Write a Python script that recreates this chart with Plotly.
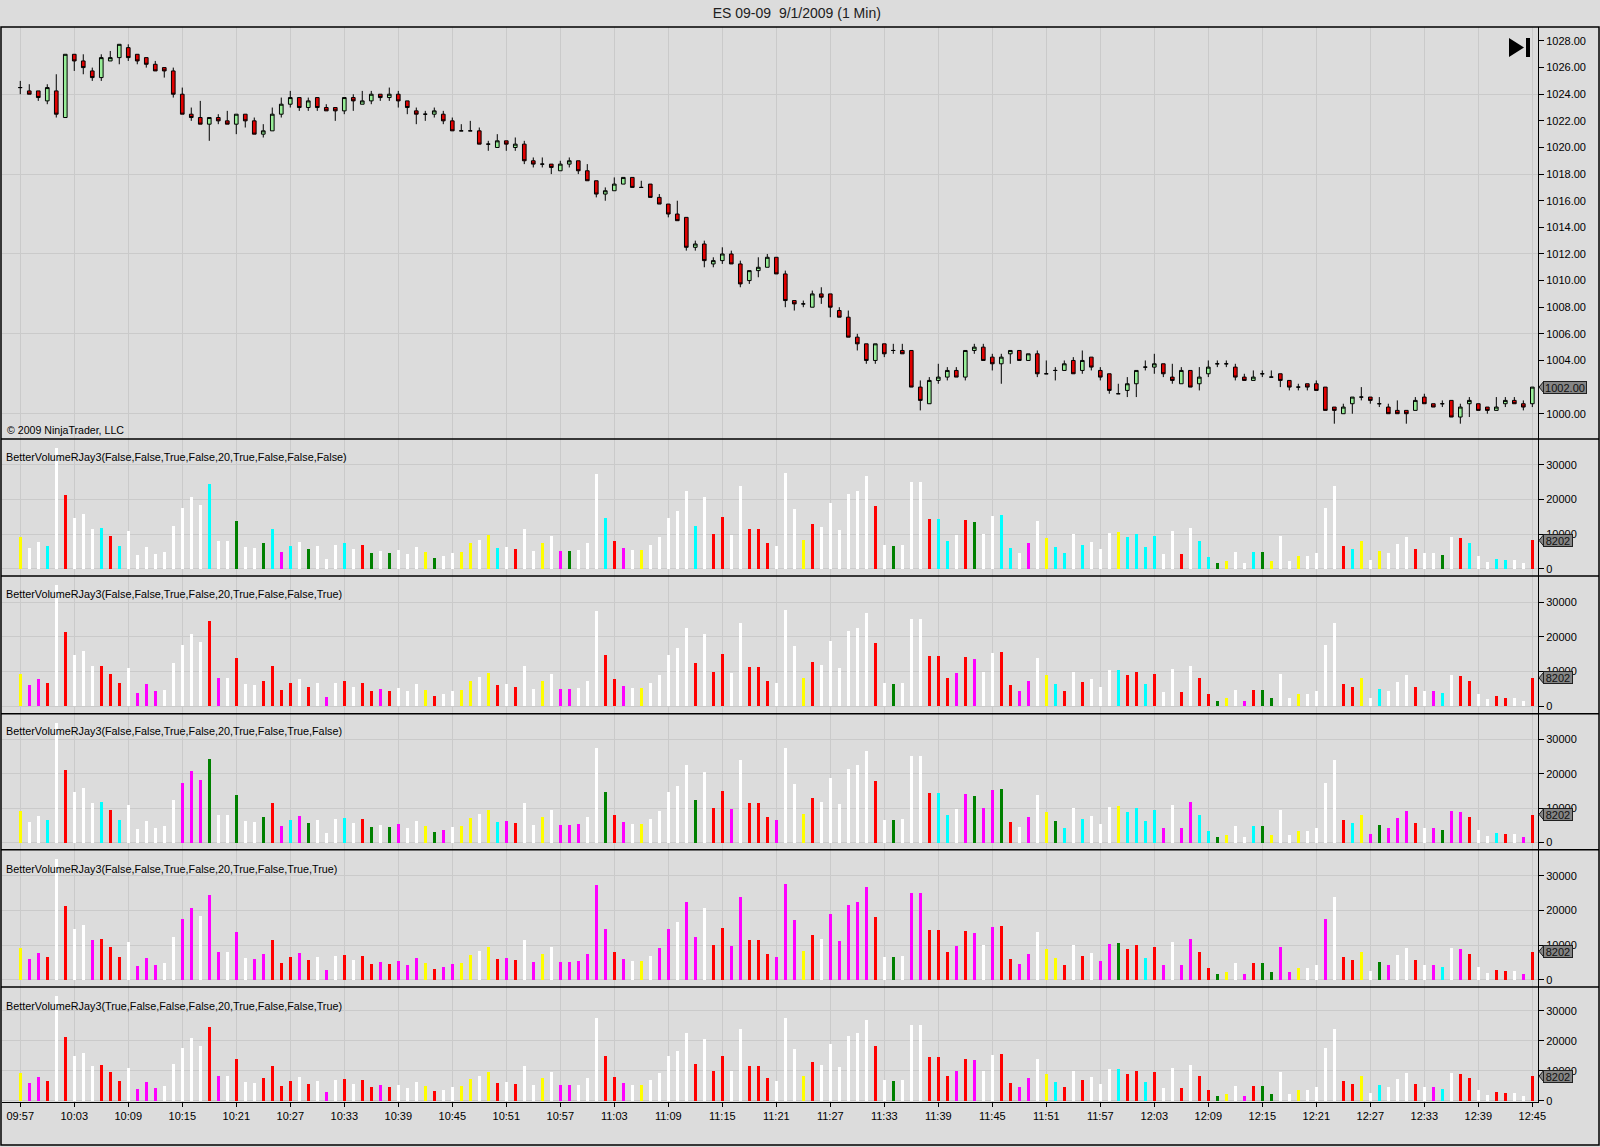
import plotly.graph_objects as go
from plotly.subplots import make_subplots

TITLE = "ES 09-09\u00a0 9/1/2009 (1 Min)"
COPYRIGHT = "\u00a9 2009 NinjaTrader, LLC"

TICK_LABELS = ["09:57", "10:03", "10:09", "10:15", "10:21", "10:27", "10:33", "10:39",
               "10:45", "10:51", "10:57", "11:03", "11:09", "11:15", "11:21", "11:27",
               "11:33", "11:39", "11:45", "11:51", "11:57", "12:03", "12:09", "12:15",
               "12:21", "12:27", "12:33", "12:39", "12:45"]

OPEN = [
    1024.5, 1024.25, 1024.25, 1023.5, 1024.25, 1022.25, 1027.0, 1026.5, 1025.75, 1025.25,
    1026.5, 1026.75, 1027.5, 1027.0, 1026.75, 1026.25, 1026.0, 1025.75, 1024.0, 1022.5,
    1022.25, 1021.75, 1022.25, 1022.0, 1021.75, 1022.5, 1022.0, 1021.0, 1021.25, 1022.5,
    1023.25, 1023.75, 1023.0, 1023.75, 1023.0, 1023.0, 1022.75, 1023.75, 1023.25, 1023.5,
    1024.0, 1023.75, 1024.0, 1023.5, 1022.75, 1022.5, 1022.5, 1022.5, 1022.0, 1021.25,
    1021.25, 1021.25, 1020.25, 1020.0, 1020.5, 1020.0, 1020.25, 1019.0, 1018.75, 1018.75,
    1018.25, 1018.75, 1019.0, 1018.25, 1017.5, 1016.5, 1016.75, 1017.25, 1017.75, 1017.0,
    1017.25, 1016.25, 1015.75, 1015.0, 1014.75, 1012.5, 1012.75, 1011.25, 1011.5, 1012.0,
    1011.25, 1010.0, 1010.75, 1011.0, 1011.75, 1010.5, 1008.5, 1008.25, 1008.0, 1009.0,
    1009.0, 1007.75, 1007.25, 1005.75, 1005.25, 1004.0, 1005.25, 1004.75, 1004.75, 1004.75,
    1002.0, 1000.75, 1002.5, 1002.75, 1003.25, 1002.75, 1004.75, 1005.0, 1004.25, 1003.75,
    1004.5, 1004.75, 1004.0, 1004.5, 1003.0, 1003.25, 1003.25, 1004.0, 1003.25, 1004.25,
    1003.25, 1003.0, 1001.5, 1001.75, 1002.25, 1003.5, 1003.5, 1003.75, 1002.75, 1002.25,
    1003.25, 1002.25, 1003.0, 1003.75, 1003.75, 1003.5, 1002.75, 1002.5, 1003.0, 1002.75,
    1003.0, 1002.5, 1002.0, 1002.25, 1002.25, 1002.0, 1000.5, 1000.0, 1000.75, 1001.25,
    1001.25, 1000.75, 1000.5, 1000.25, 1000.25, 1000.25, 1001.25, 1000.75, 1000.75, 1001.0,
    999.75, 1000.75, 1000.75, 1000.5, 1000.25, 1000.75, 1001.0, 1000.75, 1000.75,
]
HIGH = [
    1025.0, 1024.75, 1024.25, 1024.75, 1025.5, 1027.0, 1027.0, 1027.0, 1026.0, 1027.0,
    1027.25, 1027.75, 1027.75, 1027.0, 1026.75, 1026.5, 1026.0, 1026.0, 1024.5, 1023.0,
    1023.5, 1022.25, 1022.5, 1022.75, 1022.5, 1022.5, 1022.25, 1021.75, 1023.0, 1023.75,
    1024.25, 1023.75, 1023.75, 1023.75, 1023.25, 1023.0, 1023.75, 1024.0, 1024.25, 1024.25,
    1024.0, 1024.5, 1024.25, 1023.5, 1023.0, 1022.75, 1023.0, 1022.75, 1022.25, 1021.75,
    1022.0, 1021.5, 1020.5, 1021.0, 1020.5, 1020.75, 1020.5, 1019.25, 1019.25, 1018.75,
    1019.0, 1019.25, 1019.0, 1018.75, 1017.5, 1017.0, 1017.75, 1017.75, 1017.75, 1017.5,
    1017.25, 1016.5, 1015.75, 1016.0, 1014.75, 1013.0, 1013.0, 1011.75, 1012.5, 1012.25,
    1011.5, 1010.75, 1011.75, 1012.0, 1011.75, 1010.75, 1008.5, 1008.5, 1009.25, 1009.5,
    1009.0, 1008.0, 1007.75, 1006.0, 1005.25, 1005.25, 1005.25, 1005.25, 1005.25, 1004.75,
    1002.5, 1002.75, 1003.75, 1003.5, 1003.5, 1004.75, 1005.25, 1005.25, 1004.5, 1004.5,
    1004.75, 1004.75, 1004.5, 1004.75, 1004.0, 1003.5, 1004.0, 1004.25, 1004.75, 1004.25,
    1003.5, 1003.0, 1002.25, 1002.75, 1003.25, 1004.0, 1004.5, 1003.75, 1003.75, 1003.5,
    1003.25, 1003.5, 1004.0, 1004.0, 1004.0, 1003.75, 1003.0, 1003.25, 1003.25, 1003.25,
    1003.0, 1002.5, 1002.25, 1002.25, 1002.5, 1002.0, 1000.5, 1000.75, 1001.25, 1002.0,
    1001.25, 1001.25, 1000.75, 1001.0, 1000.25, 1001.25, 1001.5, 1000.75, 1001.0, 1001.0,
    1000.75, 1001.25, 1000.75, 1000.5, 1001.25, 1001.25, 1001.25, 1001.0, 1002.0,
]
LOW = [
    1024.0, 1024.0, 1023.5, 1023.25, 1022.25, 1022.25, 1025.75, 1025.5, 1025.0, 1025.0,
    1026.5, 1026.25, 1026.5, 1026.25, 1026.0, 1025.75, 1025.25, 1023.75, 1022.5, 1022.0,
    1021.75, 1020.5, 1021.75, 1021.75, 1021.0, 1021.5, 1021.0, 1020.75, 1021.25, 1022.25,
    1023.0, 1022.75, 1022.75, 1022.75, 1022.75, 1022.0, 1022.5, 1022.75, 1023.25, 1023.25,
    1023.5, 1023.5, 1023.0, 1022.5, 1021.75, 1022.0, 1022.25, 1021.75, 1021.25, 1021.25,
    1021.25, 1020.25, 1019.75, 1020.0, 1019.75, 1019.75, 1018.75, 1018.5, 1018.5, 1018.0,
    1018.25, 1018.5, 1018.0, 1017.5, 1016.25, 1016.0, 1016.75, 1017.25, 1017.0, 1017.0,
    1016.25, 1015.75, 1014.75, 1014.5, 1012.25, 1012.25, 1011.0, 1011.0, 1011.25, 1011.25,
    1009.5, 1009.75, 1010.25, 1011.0, 1010.5, 1008.0, 1007.75, 1008.0, 1008.0, 1008.25,
    1007.25, 1007.25, 1005.75, 1004.75, 1003.75, 1003.75, 1004.25, 1004.5, 1004.5, 1002.0,
    1000.25, 1000.75, 1002.25, 1002.5, 1002.75, 1002.5, 1004.5, 1004.0, 1003.25, 1002.25,
    1003.75, 1004.0, 1004.0, 1002.75, 1003.0, 1002.5, 1003.25, 1003.0, 1003.0, 1003.25,
    1002.5, 1001.5, 1001.5, 1001.25, 1001.25, 1003.25, 1003.0, 1002.75, 1002.25, 1002.25,
    1002.0, 1001.75, 1002.75, 1003.5, 1003.5, 1002.5, 1002.5, 1002.5, 1002.75, 1002.75,
    1002.0, 1001.75, 1001.75, 1001.75, 1001.75, 1000.25, 999.25, 1000.0, 1000.0, 1001.0,
    1000.75, 1000.5, 1000.0, 1000.0, 999.25, 1000.25, 1000.75, 1000.5, 1000.5, 999.75,
    999.25, 999.75, 1000.25, 1000.0, 1000.25, 1000.5, 1000.75, 1000.25, 1000.5,
]
CLOSE = [
    1024.5, 1024.0, 1023.75, 1024.5, 1022.5, 1027.0, 1026.5, 1026.0, 1025.25, 1026.75,
    1026.75, 1027.75, 1026.75, 1026.5, 1026.25, 1025.75, 1025.75, 1024.0, 1022.5, 1022.25,
    1021.75, 1022.25, 1022.0, 1021.75, 1022.5, 1022.0, 1021.0, 1021.25, 1022.5, 1023.25,
    1023.75, 1023.0, 1023.5, 1023.0, 1022.75, 1022.75, 1023.75, 1023.5, 1023.5, 1024.0,
    1023.75, 1024.0, 1023.5, 1023.0, 1022.5, 1022.5, 1022.75, 1022.0, 1021.25, 1021.25,
    1021.25, 1020.25, 1020.25, 1020.5, 1020.25, 1020.25, 1019.0, 1018.75, 1018.75, 1018.5,
    1018.75, 1019.0, 1018.25, 1017.5, 1016.5, 1016.75, 1017.25, 1017.75, 1017.0, 1017.0,
    1016.25, 1015.75, 1015.0, 1014.5, 1012.5, 1012.75, 1011.5, 1011.5, 1012.0, 1011.25,
    1009.75, 1010.75, 1011.0, 1011.75, 1010.5, 1008.5, 1008.25, 1008.25, 1009.0, 1008.75,
    1008.0, 1007.25, 1005.75, 1005.25, 1004.0, 1005.25, 1004.5, 1004.75, 1004.5, 1002.0,
    1001.0, 1002.5, 1002.75, 1003.25, 1002.75, 1004.75, 1005.0, 1004.0, 1003.75, 1004.25,
    1004.75, 1004.0, 1004.5, 1003.0, 1003.0, 1003.25, 1003.75, 1003.0, 1004.0, 1003.5,
    1002.75, 1001.75, 1001.5, 1002.25, 1003.25, 1003.5, 1003.75, 1003.0, 1002.5, 1003.25,
    1002.0, 1002.75, 1003.5, 1003.75, 1003.75, 1002.75, 1002.5, 1002.75, 1003.0, 1002.75,
    1002.5, 1002.0, 1002.0, 1002.0, 1001.75, 1000.25, 1000.25, 1000.5, 1001.25, 1001.25,
    1001.0, 1000.75, 1000.0, 1000.0, 1000.0, 1001.0, 1000.75, 1000.5, 1000.75, 999.75,
    1000.5, 1001.0, 1000.25, 1000.25, 1000.5, 1001.0, 1000.75, 1000.5, 1002.0,
]

VOLUME = [
    9250, 6070, 7800, 6650, 34800, 21300, 14750, 15900, 11570, 11760,
    9450, 6650, 11000, 3950, 6360, 4340, 4820, 12340, 17550, 20820,
    18400, 24500, 8100, 8100, 13800, 6360, 6070, 7420, 11570, 4820,
    6650, 7800, 5690, 6650, 2800, 6840, 7330, 5690, 6840, 4530,
    5110, 4530, 5400, 4340, 6360, 4820, 3080, 3660, 4530, 4820,
    7330, 8390, 9640, 6070, 6360, 5690, 11570, 5110, 7420, 9450,
    5110, 5110, 5400, 7420, 27470, 14750, 8000, 5980, 5400, 5400,
    6840, 9160, 14750, 16680, 22560, 12340, 20730, 10030, 14940, 9740,
    24000, 11470, 11470, 7420, 6650, 27600, 17260, 8290, 12900, 11950,
    18900, 11180, 21600, 22560, 26800, 18120, 6750, 6560, 6840, 25160,
    25160, 14460, 14460, 8100, 9740, 14070, 13500, 10030, 15230, 15620,
    6070, 4530, 7420, 13880, 8970, 6360, 4430, 10030, 6940, 7800,
    5590, 10410, 10600, 9060, 10030, 6360, 9450, 4240, 10890, 4240,
    11760, 8100, 3470, 1640, 2310, 4820, 1640, 4820, 4820, 2310,
    9450, 2310, 3570, 3570, 4430, 17550, 24000, 6560, 5690, 8100,
    2510, 5110, 4430, 7130, 9160, 5690, 4430, 4430, 3860, 9160,
    8870, 7420, 3660, 2020, 2890, 2510, 2510, 1640, 8202,
]

# bar colour codes per indicator panel: Y yellow, W white, C cyan, R red, M magenta, G green
COLORS_1 = ("YWWCWRWWWC" "RCWWWWWWWW" "WCWWGWWGCM" "CWGWWWCWRG" "WGWWWYGWWY"
            "YWYCWRWWYW" "MGWWWCRMWY" "WWWWWCWRRW" "WRRRWWWYRW" "WWWWWRWGWW"
            "WRCCWRGWWC" "CWMWYCCWCW" "WWYCCCCWWR" "WCCGYWWCGY" "WWYWWWWRCY"
            "WYWWWRWWGW" "RCWWCCWWR")
COLORS_2 = ("YMMRWRWWWR" "RRWMMMWWWW" "WRMWRWWRRR" "RWRWMWRWRR" "MRWWWYRWWY"
            "YWYRWRWWYW" "MMWWWRRMWY" "WWWWWRWRRW" "WRRRWWWYRW" "WWWWWRWGWW"
            "WRRRMRMWWR" "RMMWYCRWRW" "WWCRRCRWWR" "WRRGYWMRGG" "WWYWWWWRRY"
            "WCWWWRWMCW" "RRWWRRWWR")
COLORS_3 = ("YWWCWRWWWC" "RCWWWWWWMM" "MGWWGWWGRM" "CMGWWWCWRG" "WGMWWYGMWY"
            "YWYCMRWWYW" "MMMWWGRMWY" "WWWWWGWRRM" "WRRRMWWYRW" "WWWWWRWGWW"
            "WRCCWMGMMG" "RWMWYGCWCW" "WWYCCCCMWM" "MCCGYWWCGY" "WWYWWWWRCY"
            "MGMMMRWMGM" "MRWWCRWMR")
COLORS_4 = ("YMMRWRWWMR" "RRWMMMWWMM" "WMMWMWMMRR" "RMRWMWRWRR" "MRMMMYRMMY"
            "YWYRMRWMYW" "MMMMMMRMWY" "WMMWMMWRRM" "MRRRMMMYRW" "MMMMMRWGWM"
            "MRRRMRMWMR" "RMMWYYRWRW" "MMGRRCRMWM" "MRRGYWMRGG" "MMYWWMWRRY"
            "WGMWWRWMCW" "MRWWRRWMR")
COLORS_5 = COLORS_2

PANEL_TITLES = [
    "BetterVolumeRJay3(False,False,True,False,20,True,False,False,False)",
    "BetterVolumeRJay3(False,False,True,False,20,True,False,False,True)",
    "BetterVolumeRJay3(False,False,True,False,20,True,False,True,False)",
    "BetterVolumeRJay3(False,False,True,False,20,True,False,True,True)",
    "BetterVolumeRJay3(True,False,False,False,20,True,False,False,True)",
]

PALETTE = {"Y": "#FFFF00", "W": "#FFFFFF", "C": "#00FFFF",
           "R": "#FF0000", "M": "#FF00FF", "G": "#008000"}
BG = "#DCDCDC"
GRID = "#CACACA"
TAG = "#858585"
FONT = "Arial, Liberation Sans, sans-serif"

bars = list(range(len(CLOSE)))
panels = [COLORS_1, COLORS_2, COLORS_3, COLORS_4, COLORS_5]

fig = make_subplots(rows=6, cols=1, shared_xaxes=True, vertical_spacing=0,
                    row_heights=[412, 137, 137.7, 136, 137.3, 115])

# price candles
fig.add_trace(go.Candlestick(
    x=bars, open=OPEN, high=HIGH, low=LOW, close=CLOSE,
    increasing=dict(fillcolor="#98EE98", line=dict(color="black", width=1)),
    decreasing=dict(fillcolor="#E00000", line=dict(color="black", width=1)),
    whiskerwidth=0, showlegend=False,
), row=1, col=1)

# volume panels
for k, codes in enumerate(panels):
    fig.add_trace(go.Bar(
        x=bars, y=VOLUME, width=0.34,
        marker=dict(color=[PALETTE[c] for c in codes], line=dict(width=0)),
        showlegend=False,
    ), row=k + 2, col=1)

# overlay axis carrying the price labels (grid comes from the main axis)
fig.add_trace(go.Scatter(x=[None], y=[None], xaxis="x", yaxis="y7",
                         showlegend=False, hoverinfo="skip"))

price_range = [998.1, 1029.05]
vol_range = [-2100, 37500]

fig.update_layout(
    width=1600, height=1147,
    paper_bgcolor=BG, plot_bgcolor=BG,
    margin=dict(l=2, r=62, t=27, b=45),
    showlegend=False, boxgap=0.42, bargap=0,
    font=dict(family=FONT, size=11, color="black"),
    title=dict(text=TITLE, x=0.498, xanchor="center", y=1 - 13 / 1147, yanchor="middle",
               font=dict(size=14, color="#202020")),
    xaxis_rangeslider_visible=False,
    yaxis7=dict(overlaying="y", anchor="x", side="right", range=price_range,
                tickvals=list(range(1000, 1029, 2)), tickformat=".2f",
                showgrid=False, zeroline=False, showline=True, linecolor="black",
                ticks="outside", ticklen=5, tickcolor="black",
                tickfont=dict(size=11, color="black")),
)

fig.update_xaxes(range=[-2.03, 168.63], tickvals=list(range(0, 169, 6)), ticktext=TICK_LABELS,
                 showgrid=True, gridcolor=GRID, gridwidth=1, zeroline=False)
fig.update_xaxes(row=6, col=1, showline=True, linecolor="black", linewidth=1,
                 ticks="outside", ticklen=4, tickcolor="black", showticklabels=True,
                 tickfont=dict(size=11, color="black"))

fig.update_yaxes(row=1, col=1, side="right", range=price_range,
                 tickvals=list(range(1000, 1029, 6)), showticklabels=False,
                 showgrid=True, gridcolor=GRID, zeroline=False, ticks="")
for r in range(2, 7):
    fig.update_yaxes(row=r, col=1, side="right",
                     range=vol_range if r < 6 else [-430, 37900],
                     tickvals=[0, 10000, 20000, 30000], tickformat="d",
                     showgrid=True, gridcolor=GRID,
                     zeroline=False, showline=True, linecolor="black",
                     ticks="outside", ticklen=5, tickcolor="black",
                     tickfont=dict(size=11, color="black"))

# panel separators and outer frame
px_x = lambda p: (p - 2) / 1536
px_y = lambda p: (1102 - p) / 1075
shapes = []
for ax in [fig.layout.yaxis2, fig.layout.yaxis3, fig.layout.yaxis4,
           fig.layout.yaxis5, fig.layout.yaxis6]:
    top = ax.domain[1]
    shapes.append(dict(type="line", xref="paper", yref="paper", x0=px_x(1), x1=px_x(1599),
                       y0=top, y1=top, line=dict(color="black", width=1.5)))
shapes.append(dict(type="rect", xref="paper", yref="paper", x0=px_x(1), x1=px_x(1599),
                   y0=px_y(1145), y1=1.0, line=dict(color="black", width=1.5)))

# last-value tags: pointed tip as a shape, box + text as an annotation on top of the axis labels
annotations = []
tags = [(yr, VOLUME[-1], str(VOLUME[-1]), 28) for yr in ["y2", "y3", "y4", "y5", "y6"]]
tags.append(("y", CLOSE[-1], "%.2f" % CLOSE[-1], 42))
for yr, val, txt, w in tags:
    shapes.append(dict(type="path", xref="paper", xsizemode="pixel", xanchor=1.0,
                       yref=yr, ysizemode="pixel", yanchor=val,
                       path="M 1,0 L 6,6 L 6,-6 Z",
                       fillcolor=TAG, line=dict(color="#202020", width=1)))
    annotations.append(dict(xref="paper", x=1.0, xanchor="left", xshift=5,
                            yref=yr, y=val, text=txt, showarrow=False,
                            width=w, height=11, align="center",
                            bgcolor=TAG, bordercolor="#202020", borderwidth=1, borderpad=0,
                            font=dict(size=11, color="#101010")))

# "go to end" icon
shapes.append(dict(type="path", xref="paper", xsizemode="pixel", xanchor=1.0,
                   yref="paper", ysizemode="pixel", yanchor=1.0,
                   path="M -29,-11 L -14,-20.5 L -29,-30 Z M -12,-11 L -8,-11 L -8,-30 L -12,-30 Z",
                   fillcolor="black", line=dict(color="black", width=0)))

annotations.append(dict(xref="paper", yref="paper", x=px_x(5), y=px_y(430), xanchor="left",
                        yanchor="middle", text=COPYRIGHT, showarrow=False,
                        font=dict(size=10.6, color="black")))
for t, ypx in zip(PANEL_TITLES, [457, 594, 731, 868.7, 1005.7]):
    annotations.append(dict(xref="paper", yref="paper", x=px_x(4), y=px_y(ypx), xanchor="left",
                            yanchor="middle", text=t, showarrow=False,
                            font=dict(size=10.8, color="black")))

fig.update_layout(shapes=shapes, annotations=annotations)

fig.write_html("out.html", config={"displayModeBar": False},
               post_script="document.body.style.margin='0';")
